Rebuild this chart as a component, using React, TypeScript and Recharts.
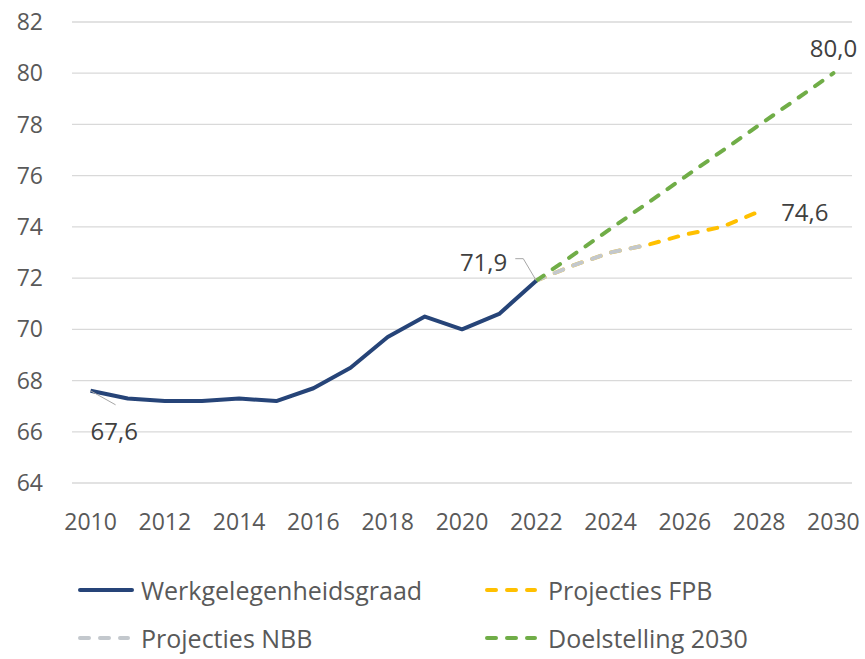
import { LineChart, Line, XAxis, YAxis, CartesianGrid } from "recharts";

const years = [
  2010, 2011, 2012, 2013, 2014, 2015, 2016, 2017, 2018, 2019, 2020, 2021,
  2022, 2023, 2024, 2025, 2026, 2027, 2028, 2029, 2030,
];
// employment rate 2010-2022
const werkgelegenheid = [
  67.6, 67.3, 67.2, 67.2, 67.3, 67.2, 67.7, 68.5, 69.7, 70.5, 70.0, 70.6, 71.9,
];
// projections start in 2022
const projFPB = [71.9, 72.5, 73.0, 73.3, 73.7, 74.0, 74.6];
const projNBB = [71.9, 72.5, 73.0, 73.3];
const doelYears = [2022, 2030];
const doelstelling = [71.9, 80.0];

const xTicks = [2010, 2012, 2014, 2016, 2018, 2020, 2022, 2024, 2026, 2028, 2030];
const yTicks = [64, 66, 68, 70, 72, 74, 76, 78, 80, 82];

const NAVY = "#264478";
const YELLOW = "#FFC000";
const GREY = "#C3C8CD";
const GREEN = "#70AD47";
const FONT = "'Segoe UI', 'Open Sans', sans-serif";

const data = years.map((year) => {
  const i = year - 2010;
  const p = year - 2022;
  const d = doelYears.indexOf(year);
  return {
    year,
    werk: i < werkgelegenheid.length ? werkgelegenheid[i] : null,
    fpb: p >= 0 && p < projFPB.length ? projFPB[p] : null,
    nbb: p >= 0 && p < projNBB.length ? projNBB[p] : null,
    doel: d >= 0 ? doelstelling[d] : null,
  };
});

const fmt = (v: number) => v.toFixed(1).replace(".", ",");

const labelStyle = { fontSize: 24, fill: "#404040", fontFamily: FONT };

function WerkLabel(props: any) {
  const { x, y, value, index } = props;
  if (value == null) return null;
  if (index === 0) {
    return (
      <g>
        <line x1={x} y1={y} x2={x + 25} y2={y + 14} stroke="#A6A6A6" strokeWidth={1} />
        <text x={x} y={y + 49} {...labelStyle}>
          {fmt(value)}
        </text>
      </g>
    );
  }
  if (index === werkgelegenheid.length - 1) {
    return (
      <g>
        <polyline
          points={`${x - 21},${y - 22} ${x - 13},${y - 22} ${x},${y}`}
          fill="none"
          stroke="#A6A6A6"
          strokeWidth={1}
        />
        <text x={x - 29} y={y - 10} textAnchor="end" {...labelStyle}>
          {fmt(value)}
        </text>
      </g>
    );
  }
  return null;
}

function FpbLabel(props: any) {
  const { x, y, value, index } = props;
  if (value == null || index !== 2022 - 2010 + projFPB.length - 1) return null;
  return (
    <text x={x + 22} y={y + 9} {...labelStyle}>
      {fmt(value)}
    </text>
  );
}

function DoelLabel(props: any) {
  const { x, y, value, index } = props;
  if (value == null || index !== years.length - 1) return null;
  return (
    <text x={x} y={y - 16} textAnchor="middle" {...labelStyle}>
      {fmt(value)}
    </text>
  );
}

const legendItems = [
  { name: "Werkgelegenheidsgraad", color: NAVY, dashed: false, left: 78, top: 590 },
  { name: "Projecties FPB", color: YELLOW, dashed: true, left: 485, top: 590 },
  { name: "Projecties NBB", color: GREY, dashed: true, left: 78, top: 638 },
  { name: "Doelstelling 2030", color: GREEN, dashed: true, left: 485, top: 638 },
];

export default function App() {
  return (
    <div style={{ position: "absolute", left: 0, top: 0, width: 865, height: 659, background: "#fff" }}>
      <LineChart
        width={865}
        height={659}
        data={data}
        margin={{ top: 22, right: 13, left: 0, bottom: 0 }}
      >
        <CartesianGrid vertical={false} stroke="#D9D9D9" strokeWidth={1.3} />
        <XAxis
          dataKey="year"
          type="number"
          domain={[2009.5, 2030.5]}
          ticks={xTicks}
          axisLine={false}
          tickLine={false}
          tickSize={0}
          tickMargin={31}
          height={176}
          tick={{ fontSize: 23, fill: "#595959", fontFamily: FONT }}
        />
        <YAxis
          domain={[64, 82]}
          ticks={yTicks}
          axisLine={false}
          tickLine={false}
          tickSize={0}
          tickMargin={29}
          width={72}
          tick={{ fontSize: 23, fill: "#595959", fontFamily: FONT }}
        />
        <Line
          dataKey="fpb"
          stroke={YELLOW}
          strokeWidth={4}
          strokeDasharray="9 11"
          strokeLinecap="round"
          dot={false}
          isAnimationActive={false}
          label={<FpbLabel />}
        />
        <Line
          dataKey="nbb"
          stroke={GREY}
          strokeWidth={4}
          strokeDasharray="9 11"
          strokeLinecap="round"
          dot={false}
          isAnimationActive={false}
        />
        <Line
          dataKey="doel"
          stroke={GREEN}
          strokeWidth={4}
          strokeDasharray="9 11"
          strokeLinecap="round"
          dot={false}
          connectNulls
          isAnimationActive={false}
          label={<DoelLabel />}
        />
        <Line
          dataKey="werk"
          stroke={NAVY}
          strokeWidth={4}
          strokeLinejoin="round"
          dot={false}
          isAnimationActive={false}
          label={<WerkLabel />}
        />
      </LineChart>
      {legendItems.map((item) => (
        <div
          key={item.name}
          style={{
            position: "absolute",
            left: item.left,
            top: item.top - 17,
            height: 34,
            display: "flex",
            alignItems: "center",
            fontFamily: FONT,
            fontSize: 25,
            color: "#595959",
            whiteSpace: "nowrap",
          }}
        >
          <svg width={56} height={8} style={{ marginRight: 7 }}>
            <line
              x1={2}
              y1={4}
              x2={item.dashed ? 50 : 54}
              y2={4}
              stroke={item.color}
              strokeWidth={4}
              strokeLinecap="round"
              strokeDasharray={item.dashed ? "9 11" : undefined}
            />
          </svg>
          {item.name}
        </div>
      ))}
    </div>
  );
}
